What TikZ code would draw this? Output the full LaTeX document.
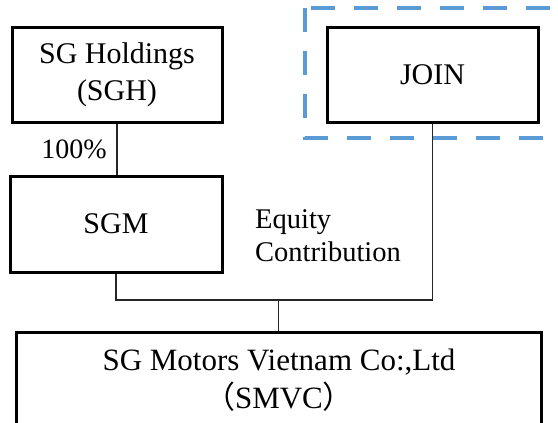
\documentclass[tikz,border=0pt]{standalone}
\usepackage{fontspec}
\setmainfont{Liberation Serif}
\newfontfamily\cjk{Noto Sans CJK SC}
\begin{document}
\begin{tikzpicture}[x=1pt,y=-1pt,
  entbox/.style={draw=black, line width=3pt, inner sep=0pt, minimum width=#1},
  lbl/.style={font=\fontsize{30}{37}\selectfont, align=center, inner sep=0pt},
  conn/.style={draw=black!85, line width=1.6pt}]
\useasboundingbox (0,0) rectangle (558,423);
\clip (0,0) rectangle (558,423);
\draw[line width=4pt, color={rgb,255:red,91;green,155;blue,213}, dash pattern=on 24pt off 19pt]
  (305,8) rectangle (620,138);
\node[entbox=210pt, minimum height=95pt, lbl] (sgh) at (117,74.5) {SG Holdings\\(SGH)};
\node[entbox=212pt, minimum height=96pt, lbl] (sgm) at (116,224) {SGM};
\node[entbox=211pt, minimum height=95pt, lbl] (join) at (432.5,74.5) {JOIN};
\node[entbox=525pt, minimum height=120pt] (smvc) at (278.5,392) {};
\node[lbl, font=\fontsize{31}{37}\selectfont, anchor=base] (smvct) at (279,370) {SG Motors Vietnam Co:,Ltd};
\node[lbl, font=\fontsize{31}{37}\selectfont, anchor=base] (smvct2) at (279,408) {{\cjk （}SMVC{\cjk ）}};
\node[font=\fontsize{28}{30}\selectfont, anchor=base, inner sep=0pt] (pct) at (74,158) {100\%};
\node[font=\fontsize{28.5}{34}\selectfont, anchor=base west, align=left, inner sep=0pt] (eq) at (255,228) {Equity};
\node[font=\fontsize{28.5}{34}\selectfont, anchor=base west, align=left, inner sep=0pt] (ec) at (255,261) {Contribution};
\coordinate (jl) at (116,300);
\coordinate (jm) at (278.5,300);
\coordinate (jr) at (432.5,300);
\draw[conn] (sgh.south) -- (sgh.south |- sgm.north);
\draw[conn] (sgm.south) -- (jl) -- (jr) -- (join.south);
\draw[conn] (jm) -- (smvc.north);
\end{tikzpicture}
\end{document}
